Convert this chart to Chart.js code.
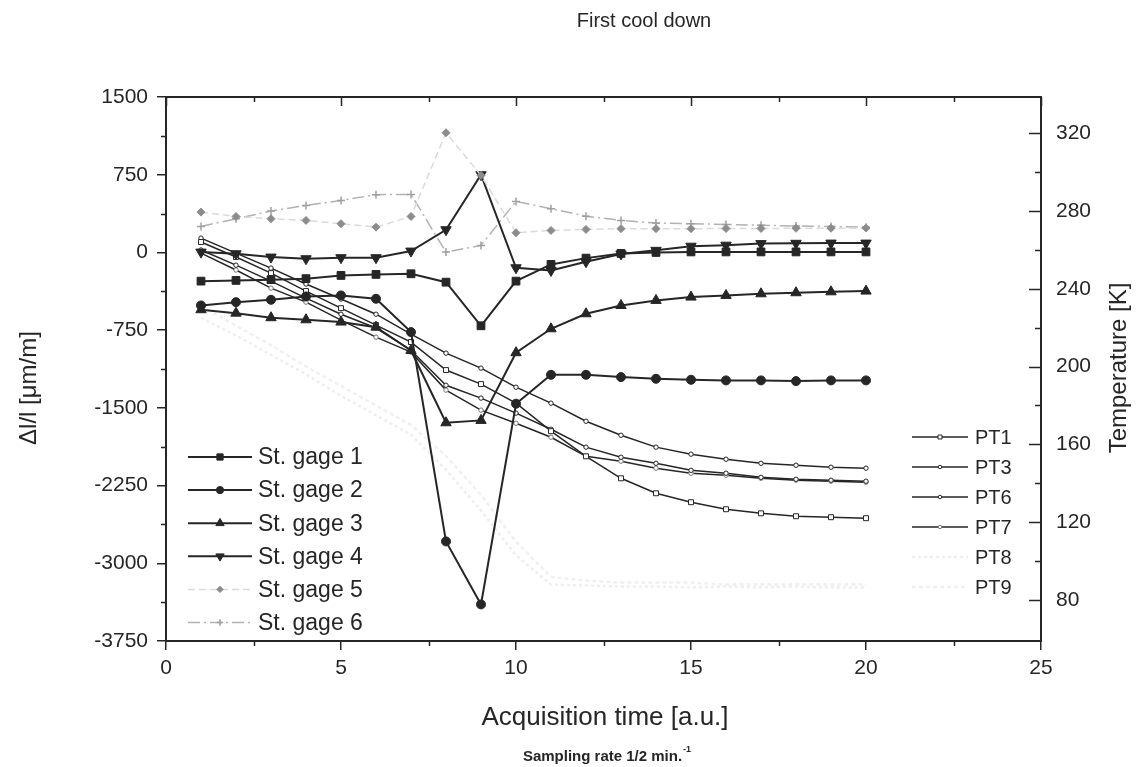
<!DOCTYPE html>
<html>
<head>
<meta charset="utf-8">
<script src="https://cdn.jsdelivr.net/npm/chart.js@4/dist/chart.umd.min.js"></script>
<style>
html, body { margin: 0; padding: 0; background: #fff; }
#wrap { width: 1143px; height: 767px; }
</style>
</head>
<body>
<div id="wrap"><canvas id="chart" width="1143" height="767"></canvas></div>
<script>
// acquisition steps
const time = [1, 2, 3, 4, 5, 6, 7, 8, 9, 10, 11, 12, 13, 14, 15, 16, 17, 18, 19, 20];

// strain gauges, dl/l in um/m
const gage1 = [-277, -270, -263, -253, -222, -212, -206, -287, -708, -277, -116, -55, -10, 0, 5, 5, 5, 5, 5, 5];
const gage2 = [-512, -480, -457, -425, -415, -447, -769, -2789, -3397, -1460, -1181, -1181, -1203, -1219, -1229, -1235, -1235, -1242, -1235, -1235];
const gage3 = [-553, -586, -630, -650, -672, -721, -946, -1644, -1621, -968, -737, -592, -512, -463, -431, -415, -399, -389, -380, -373];
const gage4 = [3, -13, -45, -61, -51, -51, 13, 219, 750, -148, -174, -90, -15, 20, 60, 70, 85, 88, 90, 90];
const gage5 = [389, 347, 325, 309, 277, 244, 347, 1155, 743, 190, 212, 222, 229, 229, 229, 231, 231, 233, 233, 235];
const gage6 = [251, 325, 399, 454, 502, 557, 560, 3, 68, 492, 422, 350, 309, 283, 277, 270, 262, 255, 250, 244];

// temperature probes, K
const pt1 = [264.0, 256.3, 248.0, 238.8, 230.0, 221.3, 212.6, 198.2, 191.0, 181.2, 166.8, 153.9, 142.6, 134.9, 130.3, 126.7, 124.6, 123.1, 122.6, 122.1];
const pt3 = [266.0, 258.3, 250.6, 242.4, 234.7, 226.9, 216.7, 206.9, 199.2, 189.4, 181.2, 171.9, 164.7, 158.6, 155.0, 152.4, 150.3, 149.3, 148.3, 147.8];
const pt6 = [259.9, 252.1, 243.9, 235.2, 226.9, 219.8, 208.4, 190.4, 183.8, 176.1, 167.8, 158.6, 153.4, 150.3, 146.7, 145.2, 143.1, 142.1, 141.6, 141.1];
const pt7 = [258.3, 249.6, 240.3, 233.1, 223.9, 215.1, 207.4, 187.9, 177.6, 170.9, 163.7, 153.9, 151.4, 147.8, 145.2, 144.2, 142.6, 141.6, 141.1, 140.6];
const pt8 = [225, 216, 206, 196, 185, 175, 165, 147, 126, 103, 88, 87.5, 87, 87, 86.5, 87, 86.5, 87, 86.5, 86.5];
const pt9 = [231, 221, 211, 200, 190, 180, 170, 154, 134, 110, 92, 90, 89, 89, 89, 88, 88, 88, 88, 88];

const xTicks = [0, 5, 10, 15, 20, 25];
const strainTicks = [-3750, -3000, -2250, -1500, -750, 0, 750, 1500];
const tempTicks = [80, 120, 160, 200, 240, 280, 320];

const ink = '#262626';
const font = '"Liberation Sans", Arial, sans-serif';

function pts(arr) {
    return time.map((t, i) => ({ x: t, y: arr[i] }));
}

function series(label, arr, axis, style) {
    return Object.assign({
        label: label,
        data: pts(arr),
        yAxisID: axis,
        borderColor: ink,
        borderWidth: 2,
        pointBackgroundColor: ink,
        pointBorderColor: ink,
        pointBorderWidth: 1,
        tension: 0
    }, style);
}

const datasets = [
    series('St. gage 1', gage1, 'y', { pointStyle: 'rect', pointRadius: 5.5 }),
    series('St. gage 2', gage2, 'y', { pointStyle: 'circle', pointRadius: 4.5 }),
    series('St. gage 3', gage3, 'y', { pointStyle: 'triangle', pointRadius: 6 }),
    series('St. gage 4', gage4, 'y', { pointStyle: 'triangle', pointRotation: 180, pointRadius: 6 }),
    series('St. gage 5', gage5, 'y', { borderColor: '#dadada', borderWidth: 1.5, borderDash: [7, 4],
        pointStyle: 'rectRot', pointRadius: 4, pointBackgroundColor: '#8c8c8c', pointBorderColor: '#8c8c8c',
        order: -1 }),
    series('St. gage 6', gage6, 'y', { borderColor: '#b2b2b2', borderWidth: 1.5, borderDash: [12, 4, 2, 4],
        pointStyle: 'cross', pointRadius: 4, pointBorderColor: '#a0a0a0', pointBorderWidth: 1.5 }),
    series('PT1', pt1, 'yT', { borderWidth: 1.5, pointStyle: 'rect', pointRadius: 3.5, pointBackgroundColor: '#fff' }),
    series('PT3', pt3, 'yT', { borderWidth: 1.5, pointStyle: 'circle', pointRadius: 2.2, pointBackgroundColor: '#fff' }),
    series('PT6', pt6, 'yT', { borderWidth: 1.5, pointStyle: 'circle', pointRadius: 2.2, pointBackgroundColor: '#fff' }),
    series('PT7', pt7, 'yT', { borderWidth: 1.5, pointStyle: 'circle', pointRadius: 2.2, pointBackgroundColor: '#fff',
        pointBorderColor: '#777' }),
    series('PT8', pt8, 'yT', { borderColor: '#eeeeee', borderWidth: 2.5, borderDash: [3, 3], pointRadius: 0, order: 5 }),
    series('PT9', pt9, 'yT', { borderColor: '#f0f0f0', borderWidth: 2.5, borderDash: [4, 3], pointRadius: 0, order: 5 })
];

function fixedTicks(values) {
    return axis => { axis.ticks = values.map(v => ({ value: v })); };
}

// frame: top border, inward ticks, minor ticks
const frame = {
    id: 'frame',
    afterDraw(chart) {
        const { ctx, chartArea: a, scales } = chart;
        ctx.save();
        ctx.strokeStyle = ink;
        ctx.lineWidth = 2;
        ctx.beginPath();
        ctx.moveTo(a.left - 1, a.top);
        ctx.lineTo(a.right + 1, a.top);
        ctx.stroke();

        ctx.lineWidth = 1.5;
        ctx.beginPath();
        for (let v = 0; v <= 25; v += 2.5) {
            const px = Math.round(scales.x.getPixelForValue(v)) + 0.5;
            const major = v % 5 === 0;
            ctx.moveTo(px, a.top);
            ctx.lineTo(px, a.top + (major ? 9 : 5));
            if (!major) {
                ctx.moveTo(px, a.bottom);
                ctx.lineTo(px, a.bottom + 5);
            }
        }
        for (let v = -3375; v < 1500; v += 750) {
            const py = Math.round(scales.y.getPixelForValue(v)) + 0.5;
            ctx.moveTo(a.left, py);
            ctx.lineTo(a.left - 5, py);
        }
        for (let v = 80; v <= 320; v += 20) {
            const py = Math.round(scales.yT.getPixelForValue(v)) + 0.5;
            const major = v % 40 === 0;
            ctx.moveTo(a.right, py);
            ctx.lineTo(a.right - (major ? 12 : 6), py);
        }
        ctx.stroke();
        ctx.restore();
    }
};

function legendRow(ctx, ds, x0, x1, y, textX, label, size) {
    ctx.save();
    ctx.strokeStyle = ds.borderColor;
    ctx.lineWidth = ds.borderWidth;
    ctx.setLineDash(ds.borderDash || []);
    ctx.beginPath();
    ctx.moveTo(x0, y);
    ctx.lineTo(x1, y);
    ctx.stroke();
    ctx.setLineDash([]);
    if (ds.pointRadius > 0 && Chart.helpers && Chart.helpers.drawPoint) {
        ctx.fillStyle = ds.pointBackgroundColor;
        ctx.strokeStyle = ds.pointBorderColor;
        ctx.lineWidth = ds.pointBorderWidth;
        Chart.helpers.drawPoint(ctx, {
            pointStyle: ds.pointStyle,
            rotation: ds.pointRotation || 0,
            radius: ds.pointRadius * 0.8,
            borderWidth: ds.pointBorderWidth
        }, (x0 + x1) / 2, y);
    }
    ctx.fillStyle = ink;
    ctx.font = size + 'px ' + font;
    ctx.textAlign = 'left';
    ctx.textBaseline = 'middle';
    ctx.fillText(label, textX, y + 1);
    ctx.restore();
}

const texts = {
    id: 'texts',
    afterDraw(chart) {
        const ctx = chart.ctx;
        const sets = chart.data.datasets;
        ctx.save();
        ctx.fillStyle = ink;
        ctx.textAlign = 'center';
        ctx.textBaseline = 'middle';

        ctx.font = '20px ' + font;
        ctx.fillText('First cool down', 644, 21);

        ctx.font = '26px ' + font;
        ctx.fillText('Acquisition time [a.u.]', 605, 718);

        // subtitle with superscript
        const main = 'Sampling rate 1/2 min.';
        ctx.font = 'bold 15px ' + font;
        const w1 = ctx.measureText(main).width;
        ctx.font = 'bold 9px ' + font;
        const w2 = ctx.measureText('-1').width;
        const left = 607 - (w1 + w2 + 1) / 2;
        ctx.textAlign = 'left';
        ctx.font = 'bold 15px ' + font;
        ctx.fillText(main, left, 757);
        ctx.font = 'bold 9px ' + font;
        ctx.fillText('-1', left + w1 + 1, 750);
        ctx.textAlign = 'center';

        ctx.font = '24px ' + font;
        ctx.save();
        ctx.translate(29, 388);
        ctx.rotate(-Math.PI / 2);
        ctx.fillText('\u0394l/l [\u03bcm/m]', 0, 0);
        ctx.restore();
        ctx.save();
        ctx.translate(1119, 368);
        ctx.rotate(-Math.PI / 2);
        ctx.fillText('Temperature [K]', 0, 0);
        ctx.restore();
        ctx.restore();

        for (let i = 0; i < 6; i++) {
            legendRow(ctx, sets[i], 188, 252, 457 + i * 33.1, 258, sets[i].label, 23);
        }
        for (let i = 6; i < 12; i++) {
            legendRow(ctx, sets[i], 912, 968, 437 + (i - 6) * 30, 975, sets[i].label, 20);
        }
    }
};

const tickFont = { family: font, size: 21 };
const plain = v => String(v);

new Chart(document.getElementById('chart'), {
    type: 'line',
    data: { datasets: datasets },
    options: {
        responsive: false,
        devicePixelRatio: 1,
        animation: false,
        layout: { padding: { top: 97, left: 0, right: 0, bottom: 0 } },
        plugins: {
            legend: { display: false },
            tooltip: { enabled: false },
            title: { display: false }
        },
        scales: {
            x: {
                type: 'linear',
                position: 'bottom',
                min: 0,
                max: 25,
                afterBuildTicks: fixedTicks(xTicks),
                afterFit: s => { s.height = 126; },
                grid: { drawOnChartArea: false, tickLength: 9, color: ink, lineWidth: 1.5 },
                border: { color: ink, width: 2 },
                ticks: { font: tickFont, color: ink, padding: 6, maxRotation: 0, callback: plain }
            },
            y: {
                type: 'linear',
                position: 'left',
                min: -3750,
                max: 1500,
                afterBuildTicks: fixedTicks(strainTicks),
                afterFit: s => { s.width = 166; },
                grid: { drawOnChartArea: false, tickLength: 9, color: ink, lineWidth: 1.5 },
                border: { color: ink, width: 2 },
                ticks: { font: tickFont, color: ink, padding: 9, callback: plain }
            },
            yT: {
                type: 'linear',
                position: 'right',
                min: 59,
                max: 338.5,
                afterBuildTicks: fixedTicks(tempTicks),
                afterFit: s => { s.width = 102; },
                grid: { drawOnChartArea: false, drawTicks: false },
                border: { color: ink, width: 2 },
                ticks: { font: tickFont, color: ink, padding: 15, callback: plain }
            }
        }
    },
    plugins: [frame, texts]
});
</script>
</body>
</html>
